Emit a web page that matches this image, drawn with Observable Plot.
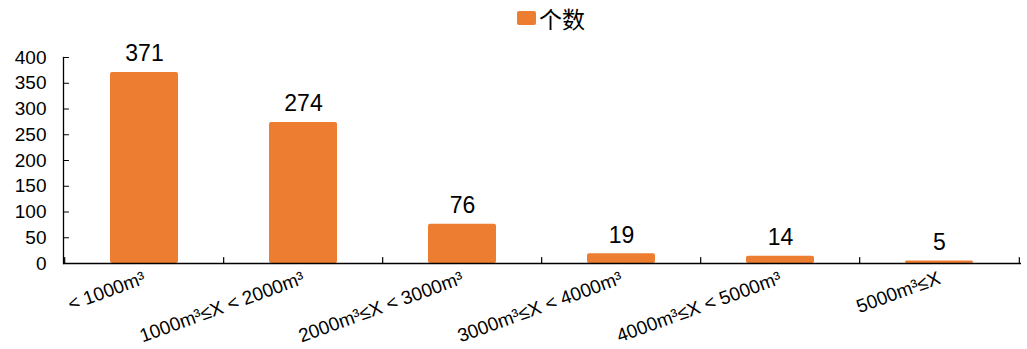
<!DOCTYPE html>
<html>
<head>
<meta charset="utf-8">
<script src="https://cdn.jsdelivr.net/npm/d3@7"></script>
<script src="https://cdn.jsdelivr.net/npm/@observablehq/plot@0.6"></script>
<style>
  body { margin: 0; background: #fff; font-family: "Liberation Sans", Arial, sans-serif; }
  #legend { height: 34px; position: relative; }
  #legend .sw { position: absolute; left: 517px; top: 11px; width: 19px; height: 14px; background: #ED7D31; border-radius: 2px; }
  #legend .lb { position: absolute; left: 539px; top: 3px; font-size: 23px; font-family: "Noto Sans CJK SC", sans-serif; color: #000; line-height: 30px; }
</style>
</head>
<body>
<div id="legend"><span class="sw"></span><span class="lb">个数</span></div>
<div id="chart"></div>
<script>
const categories = ["< 1000m³", "1000m³≤X < 2000m³", "2000m³≤X < 3000m³", "3000m³≤X < 4000m³", "4000m³≤X < 5000m³", "5000m³≤X"];
const counts = [371, 274, 76, 19, 14, 5];
const yTicks = [0, 50, 100, 150, 200, 250, 300, 350, 400];
const seriesName = "个数";

const data = categories.map((c, i) => ({category: c, count: counts[i]}));

const W = 1027, H = 315, ML = 63, MR = 6, MT = 23, MB = 86;
const step = (W - ML - MR) / categories.length;
const lineShape = {draw(context, l) { context.moveTo(0, 0); context.lineTo(0, -l); }};

const chart = Plot.plot({
  width: W, height: H,
  marginLeft: ML, marginRight: MR, marginTop: MT, marginBottom: MB,
  style: {fontFamily: "'Liberation Sans', Arial, sans-serif", color: "#000", background: "#fff"},
  x: {domain: categories, paddingInner: 0.57, paddingOuter: 0.285, label: null},
  y: {domain: [0, 400], label: null},
  marks: [
    Plot.barY(data, {x: "category", y: "count", fill: "#ED7D31", rx: 2, title: d => seriesName}),
    Plot.ruleY([0], {stroke: "#000", strokeWidth: 1.3}),
    Plot.frame({anchor: "left", stroke: "#000", strokeWidth: 1.3}),
    Plot.vector(yTicks, {y: d => d, frameAnchor: "left", rotate: 90, length: 5, anchor: "start", shape: lineShape, stroke: "#000", strokeWidth: 1.2}),
    Plot.vector(categories, {x: d => d, y: 0, dx: -step / 2, length: 6, anchor: "start", shape: lineShape, stroke: "#000", strokeWidth: 1.2}),
    Plot.vector([categories[categories.length - 1]], {x: d => d, y: 0, dx: step / 2, length: 6, anchor: "start", shape: lineShape, stroke: "#000", strokeWidth: 1.2}),
    Plot.axisY({ticks: yTicks, tickSize: 0, tickPadding: 17, fontSize: 19, tickFormat: d => String(d)}),
    Plot.axisX({tickSize: 0, tickRotate: -20, tickPadding: 14, fontSize: 19}),
    Plot.text(data, {x: "category", y: "count", text: d => String(d.count), dy: -11, lineAnchor: "bottom", fontSize: 23, fill: "#000"})
  ]
});
document.getElementById("chart").appendChild(chart);
</script>
</body>
</html>
